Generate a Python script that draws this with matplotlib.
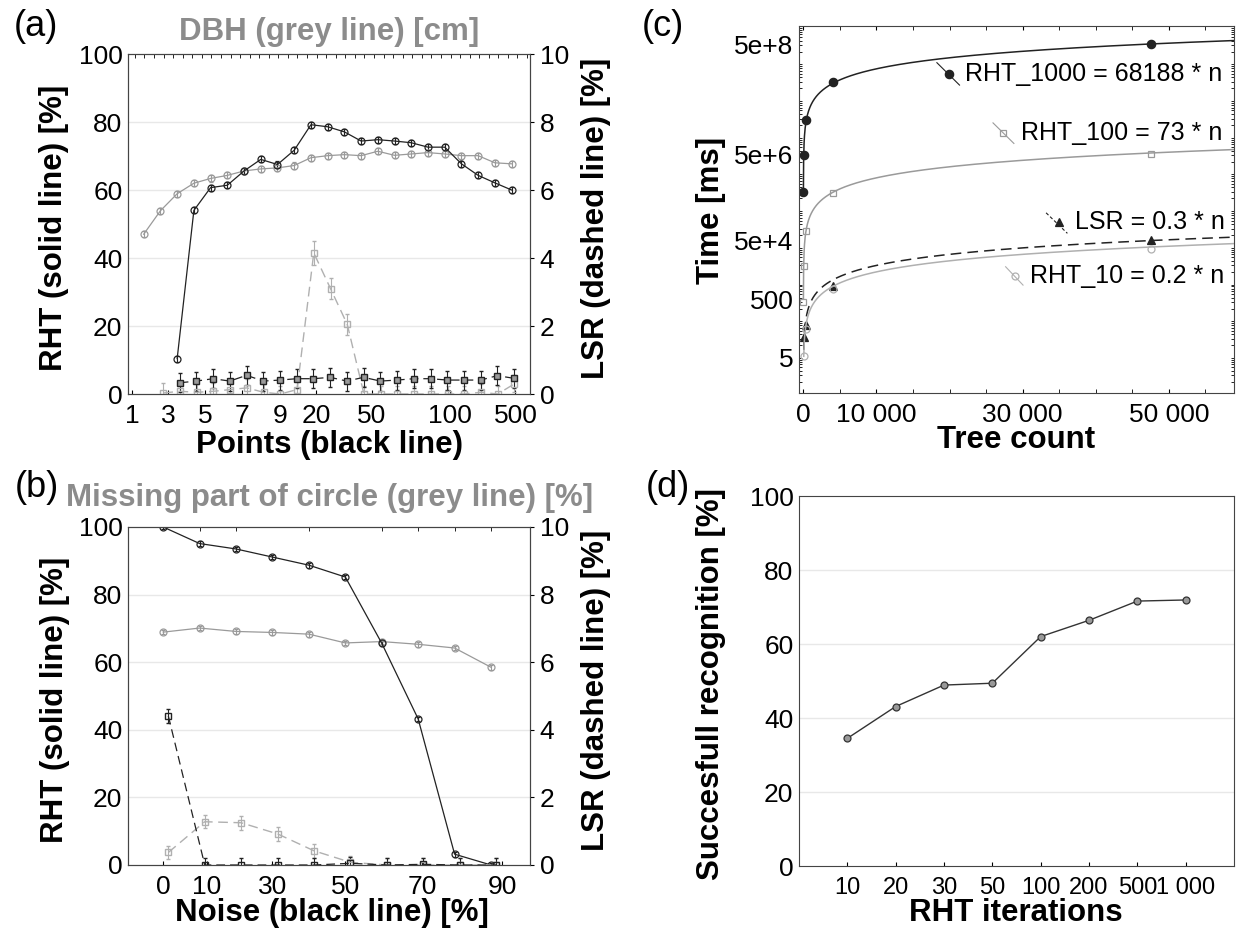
import numpy as np
import matplotlib
matplotlib.use('Agg')
import matplotlib.pyplot as plt

plt.rcParams['font.family'] = ['Liberation Sans', 'DejaVu Sans']

W, H = 1253, 934
BLACK = '#222222'
GREY = '#9a9a9a'
LGREY = '#b0b0b0'
TITLE_GREY = '#8c8c8c'

# ---------------- panel (a) : points / DBH ----------------
a_tick_pos = [-0.71, 1.46, 3.68, 5.86, 8.15, 10.32, 13.64, 18.34, 22.23]
a_tick_lab = ['1', '3', '5', '7', '9', '20', '50', '100', '500']

dbh_x = [0, 1, 2, 3, 4, 5, 6, 7, 8, 9, 10, 11, 12, 13, 14, 15, 16, 17, 18, 19, 20, 21, 22]
dbh_rht = [47.0, 53.9, 58.9, 62.0, 63.4, 64.3, 65.6, 66.2, 66.5, 67.2, 69.5, 70.1,
           70.4, 70.1, 71.4, 70.2, 70.6, 71.0, 70.6, 70.1, 70.1, 68.0, 67.7]

pts_x = [2, 3, 4, 5, 6, 7, 8, 9, 10, 11, 12, 13, 14, 15, 16, 17, 18, 19, 20, 21, 22]
pts_rht = [10.4, 54.0, 60.7, 61.4, 65.6, 69.0, 67.5, 71.7, 79.2, 78.6, 77.1,
           74.4, 74.8, 74.4, 73.9, 72.6, 72.6, 67.7, 64.3, 62.1, 60.0]

pts_lsr_x = [2.15, 3.15, 4.15, 5.15, 6.15, 7.15, 8.15, 9.15, 10.15, 11.15, 12.15,
             13.15, 14.15, 15.15, 16.15, 17.15, 18.15, 19.15, 20.15, 21.15, 22.15]
pts_lsr = [0.33, 0.38, 0.45, 0.38, 0.55, 0.38, 0.41, 0.45, 0.45, 0.49, 0.38,
           0.49, 0.38, 0.41, 0.45, 0.45, 0.41, 0.41, 0.41, 0.54, 0.46]

dbh_lsr_x = [1.17, 2.17, 3.17, 4.17, 5.17, 6.17, 7.17, 8.17, 9.17, 10.17, 11.17,
             12.17, 13.17, 14.17, 15.17, 16.17, 17.17, 18.17, 19.17, 20.17, 21.17, 22.17]
dbh_lsr = [0.03, 0.08, 0.05, 0.08, 0.13, 0.18, 0.05, 0.0, 0.13, 4.15, 3.1,
           2.05, 0.0, 0.0, 0.0, 0.0, 0.0, 0.0, 0.0, 0.05, 0.0, 0.3]
dbh_lsr_err = [0.3, 0.3, 0.25, 0.25, 0.25, 0.25, 0.25, 0.25, 0.25, 0.35, 0.3,
               0.3, 0.25, 0.25, 0.25, 0.25, 0.25, 0.25, 0.25, 0.25, 0.25, 0.25]

# ---------------- panel (b) : noise / missing part ----------------
b_tick_pos = [0, 12, 30, 50, 71, 93]
b_tick_lab = ['0', '10', '30', '50', '70', '90']
noise = [0, 10, 20, 30, 40, 50, 60, 70, 80, 90]
noise_rht = [100, 95.1, 93.5, 91.1, 88.7, 85.2, 65.6, 43.2, 3.2, 0.0]
missing_rht = [68.9, 70.1, 69.1, 68.8, 68.3, 65.7, 66.1, 65.3, 64.2, 58.5]
lsr_noise_x = [1.4, 11.4, 21.4, 31.4, 41.4, 51.4, 61.4, 71.4, 81.4, 91.4]
noise_lsr = [4.41, 0.0, 0.0, 0.0, 0.0, 0.05, 0.0, 0.02, 0.0, 0.0]
missing_lsr = [0.37, 1.28, 1.25, 0.92, 0.42, 0.08, 0.0, 0.0, 0.0, 0.0]

# ---------------- panel (c) : time vs tree count ----------------
tree_n = [5, 50, 400, 4000, 47500]
t_rht1000 = [3.0e5, 3.1e6, 2.8e7, 2.9e8, 3.3e9]
t_rht100 = [310, 2800, 2.6e4, 2.9e5, 3.3e6]
tree_n_small = [50, 400, 4000, 47500]
t_lsr = [34, 71, 820, 14300]
t_rht10 = [10, 55, 670, 8400]
fit_names = ['RHT_1000', 'RHT_100', 'LSR', 'RHT_10']
fit_coef = [68188, 73, 0.3, 0.2]
c_ytick_val = [9.5, 363, 1.4e4, 3.2e6, 3.2e9]
c_ytick_lab = ['5', '500', '5e+4', '5e+6', '5e+8']

# ---------------- panel (d) : RHT iterations ----------------
iters = ['10', '20', '30', '50', '100', '200', '500', '1 000']
success = [34.5, 43.1, 48.9, 49.4, 62.0, 66.4, 71.6, 71.9]


fig = plt.figure(figsize=(W / 100, H / 100), dpi=100)


def px_axes(l, t, r, b):
    return fig.add_axes([l / W, 1 - b / H, (r - l) / W, (b - t) / H])


def pct_axes(ax, ax2):
    ax.set_ylim(0, 100)
    ax.set_yticks([0, 20, 40, 60, 80, 100])
    for g in [20, 40, 60, 80]:
        ax.axhline(g, color='#e8e8e8', lw=1, zorder=0)
    ax.tick_params(axis='y', length=0, labelsize=19, pad=4)
    ax.tick_params(axis='x', direction='in', length=3, labelsize=19, pad=7)
    ax2.set_ylim(0, 10)
    ax2.set_yticks([0, 2, 4, 6, 8, 10])
    ax2.tick_params(axis='y', length=3, labelsize=19, pad=4)
    for s in ax.spines.values():
        s.set_color('#444444')
    for s in ax2.spines.values():
        s.set_color('#444444')


def eb(ax, x, y, err, color, marker, ls='-', ms=5, face='none'):
    ax.errorbar(x, y, yerr=err, color=color, ls=ls, lw=0.9, marker=marker, ms=ms,
                mfc=face, mec=color, mew=0.9, ecolor=color, elinewidth=0.8,
                capsize=1.5, dashes=(7, 4) if ls == '--' else (None, None))


# ---- (a)
ax = px_axes(128, 54, 530, 394)
ax2 = ax.twinx()
pct_axes(ax, ax2)
ax.set_xlim(-0.94, 23.1)
ax.set_xticks(a_tick_pos)
ax.set_xticklabels(a_tick_lab)
ax.set_xticks(np.arange(-0.53, 23.1, 0.572), minor=True)
ax.tick_params(axis='x', which='minor', bottom=False, top=True, direction='in', length=3)
eb(ax, dbh_x, dbh_rht, 0.9, GREY, 'o')
eb(ax, pts_x, pts_rht, 0.9, BLACK, 'o')
ax2.errorbar(dbh_lsr_x, dbh_lsr, yerr=dbh_lsr_err, color=LGREY, lw=1.0, dashes=(7, 4),
             marker='s', ms=5, mfc='none', mec=LGREY, ecolor=LGREY, elinewidth=0.8, capsize=1.5)
ax2.errorbar(pts_lsr_x, pts_lsr, yerr=0.28, color=BLACK, lw=0.9, dashes=(7, 4),
             marker='s', ms=5, mfc='#9a9a9a', mec=BLACK, ecolor=BLACK, elinewidth=0.8, capsize=1.5)
fig.text(329 / W, 1 - 32 / H, 'DBH (grey line) [cm]', color=TITLE_GREY, fontsize=22.5,
         fontweight='bold', ha='center', va='center')
fig.text(329 / W, 1 - 445 / H, 'Points (black line)', fontsize=22.5, fontweight='bold',
         ha='center', va='center')
fig.text(36 / W, 1 - 27 / H, '(a)', fontsize=26, ha='center', va='center')
fig.text(54 / W, 1 - 228 / H, 'RHT (solid line) [%]', fontsize=22.5, fontweight='bold',
         rotation=90, ha='center', va='center')
fig.text(596 / W, 1 - 218 / H, 'LSR (dashed line) [%]', fontsize=22.5, fontweight='bold',
         rotation=90, ha='center', va='center')

# ---- (b)
bx = px_axes(128, 527, 530, 865)
bx2 = bx.twinx()
pct_axes(bx, bx2)
bx.set_xlim(-9.67, 100.7)
bx.set_xticks(b_tick_pos)
bx.set_xticklabels(b_tick_lab)
bx.set_xticks(noise, minor=True)
bx.tick_params(axis='x', which='minor', bottom=False, top=True, direction='in', length=3)
bx.tick_params(axis='x', which='major', top=False)
eb(bx, noise, missing_rht, 0.7, GREY, 'o')
eb(bx, noise, noise_rht, 0.7, BLACK, 'o')
bx2.errorbar(lsr_noise_x, missing_lsr, yerr=0.2, color=LGREY, lw=1.0, dashes=(7, 4),
             marker='s', ms=5, mfc='none', mec=LGREY, ecolor=LGREY, elinewidth=0.8, capsize=1.5)
bx2.errorbar(lsr_noise_x, noise_lsr, yerr=0.2, color=BLACK, lw=0.9, dashes=(7, 4),
             marker='s', ms=5, mfc='none', mec=BLACK, ecolor=BLACK, elinewidth=0.8, capsize=1.5)
fig.text(330 / W, 1 - 498 / H, 'Missing part of circle (grey line) [%]', color=TITLE_GREY,
         fontsize=22.5, fontweight='bold', ha='center', va='center')
fig.text(332 / W, 1 - 913 / H, 'Noise (black line) [%]', fontsize=22.5, fontweight='bold',
         ha='center', va='center')
fig.text(37 / W, 1 - 487 / H, '(b)', fontsize=26, ha='center', va='center')
fig.text(55 / W, 1 - 700 / H, 'RHT (solid line) [%]', fontsize=22.5, fontweight='bold',
         rotation=90, ha='center', va='center')
fig.text(596 / W, 1 - 690 / H, 'LSR (dashed line) [%]', fontsize=22.5, fontweight='bold',
         rotation=90, ha='center', va='center')

# ---- (c)
cx = px_axes(799, 26, 1234, 393)
cx.set_yscale('log')
cx.set_ylim(1, 1e10)
cx.set_xlim(-600, 58900)
series = [(tree_n, t_rht1000, BLACK, 'o', BLACK, '-'),
          (tree_n, t_rht100, GREY, 's', 'none', '-'),
          (tree_n_small, t_lsr, BLACK, '^', BLACK, '--'),
          (tree_n_small, t_rht10, LGREY, 'o', 'none', '-')]
for (nx, ty, col, mk, face, ls), coef in zip(series, fit_coef):
    n_curve = np.linspace(nx[0], 58900, 2000)
    if ls == '--':
        cx.plot(n_curve, coef * n_curve, color=col, lw=1.1, dashes=(7, 4))
    else:
        cx.plot(n_curve, coef * n_curve, color=col, lw=1.1)
    cx.plot(nx, ty, ls='none', marker=mk, ms=6 if face != 'none' else 5, mfc=face, mec=col, mew=0.9)

# legend-like labels drawn next to the curves
lab_pos = [((0.317, 0.900), (0.369, 0.839), (0.344, 0.869), 0.382),
           ((0.446, 0.736), (0.494, 0.680), (0.469, 0.709), 0.511),
           ((0.568, 0.491), (0.617, 0.435), (0.597, 0.465), 0.634),
           ((0.475, 0.344), (0.515, 0.294), (0.496, 0.319), 0.531)]
for (p0, p1, pm, tx), (nx, ty, col, mk, face, ls), name, coef in zip(lab_pos, series, fit_names, fit_coef):
    cx.plot([p0[0], p1[0]], [p0[1], p1[1]], transform=cx.transAxes, color=col, lw=0.8,
            ls=(0, (3, 2)) if ls == '--' else '-')
    cx.plot([pm[0]], [pm[1]], transform=cx.transAxes, marker=mk, ms=6 if face != 'none' else 5,
            mfc=face, mec=col, mew=0.9, ls='none')
    cx.text(tx, pm[1], '%s = %s * n' % (name, coef), transform=cx.transAxes, fontsize=18,
            ha='left', va='center')

cx.set_yticks(c_ytick_val)
cx.set_yticklabels(c_ytick_lab)
cx.yaxis.set_minor_locator(matplotlib.ticker.LogLocator(base=10, subs=np.arange(2, 10), numticks=20))
cx.yaxis.set_minor_formatter(matplotlib.ticker.NullFormatter())
cx.tick_params(axis='y', which='major', length=0, labelsize=19, pad=4)
cx.tick_params(axis='y', which='minor', direction='in', length=2, left=True, right=True)
cx.set_xticks([0, 10000, 30000, 50000])
cx.set_xticklabels(['0', '10 000', '30 000', '50 000'])
cx.set_xticks(np.arange(0, 58900, 5000), minor=True)
cx.tick_params(axis='x', which='both', direction='in', length=3, top=True, labelsize=19, pad=7)
for s in cx.spines.values():
    s.set_color('#444444')
fig.text(1016 / W, 1 - 440 / H, 'Tree count', fontsize=22.5, fontweight='bold',
         ha='center', va='center')
fig.text(711 / W, 1 - 210 / H, 'Time [ms]', fontsize=22.5, fontweight='bold',
         rotation=90, ha='center', va='center')
fig.text(663 / W, 1 - 27 / H, '(c)', fontsize=26, ha='center', va='center')

# ---- (d)
dx = px_axes(799, 496, 1234, 866)
x_it = np.arange(len(iters))
dx.plot(x_it, success, color='#333333', lw=1.0, marker='o', ms=5, mfc='#999999', mec='#333333', mew=0.9)
dx.set_xlim(-1, 8)
dx.set_xticks(x_it)
dx.set_xticklabels(iters)
dx.set_ylim(0, 100)
dx.set_yticks([0, 20, 40, 60, 80, 100])
for g in [20, 40, 60, 80]:
    dx.axhline(g, color='#e8e8e8', lw=1, zorder=0)
dx.tick_params(axis='y', length=0, labelsize=19, pad=4)
dx.tick_params(axis='x', direction='in', length=3, labelsize=17, pad=8)
for s in dx.spines.values():
    s.set_color('#444444')
fig.text(1016 / W, 1 - 913 / H, 'RHT iterations', fontsize=22.5, fontweight='bold',
         ha='center', va='center')
fig.text(711 / W, 1 - 684 / H, 'Succesfull recognition [%]', fontsize=22.5, fontweight='bold',
         rotation=90, ha='center', va='center')
fig.text(668 / W, 1 - 487 / H, '(d)', fontsize=26, ha='center', va='center')

fig.savefig('out.png', dpi=100)
